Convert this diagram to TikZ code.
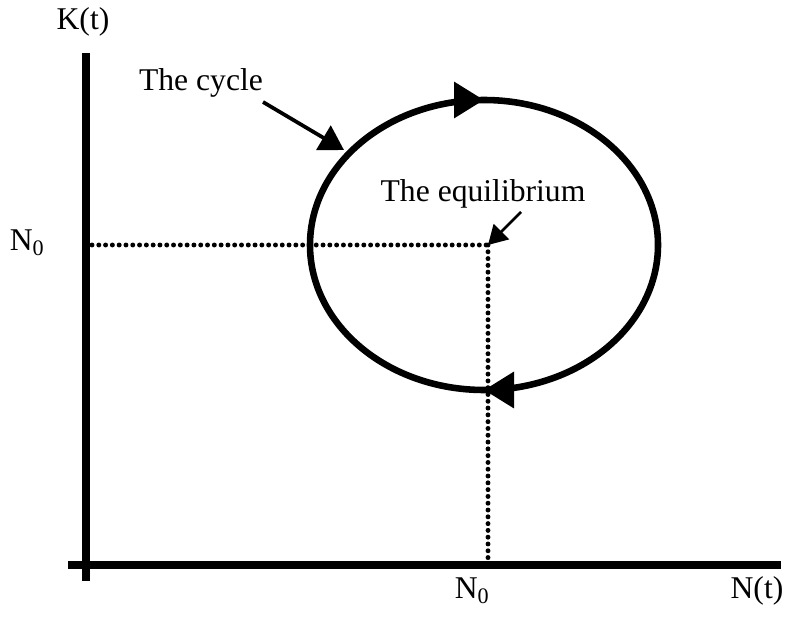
\documentclass[tikz,border=0pt]{standalone}
\usepackage{fontspec}
\setmainfont{Liberation Serif}
\usetikzlibrary{arrows.meta, positioning, decorations.markings}

\begin{document}
\begin{tikzpicture}[
        x=0.03cm,
        y=-0.03cm,
        axis/.style={
            line width=6.2pt
        },
        guide/.style={
            line width=4.2pt,
            line cap=round,
            dash pattern=on 0pt off 5.8pt
        },
        cycle/.style={
            line width=5.6pt,
            decoration={
                markings,
                mark=at position 0.25 with {\arrow{Triangle[length=0.9cm, width=1.05cm]}},
                mark=at position 0.75 with {\arrow{Triangle[length=0.9cm, width=1.05cm]}}
            },
            postaction={decorate}
        },
        label/.style={
            font=\fontsize{27}{31}\selectfont,
            inner sep=1pt
        },
        pointer/.style={
            -{Triangle[length=0.72cm, width=0.84cm]},
            line width=3.2pt
        },
        smallpointer/.style={
            -{Triangle[length=0.57cm, width=0.64cm]},
            line width=2.4pt
        }
    ]

        \useasboundingbox (0,0) rectangle (788,628);

        % ---------------------------------------------------------------------
        % Axes
        % ---------------------------------------------------------------------

        \coordinate (origin) at (86,565);
        \coordinate (equil) at (488,245);

        \draw[axis] (86,53) -- (86,581);
        \draw[axis] (68,565) -- (781,565);

        \node[label] (kaxis) at (83,22) {K(t)};
        \node[label] (naxis) at (757,591) {N(t)};

        % ---------------------------------------------------------------------
        % Equilibrium guides
        % ---------------------------------------------------------------------

        \draw[guide] (92,245) -- (equil);
        \draw[guide] (equil) -- (488,562);

        \node[label] (nzeroy) at (27,243) {N\textsubscript{0}};
        \node[label] (nzerox) at (472,591) {N\textsubscript{0}};

        % ---------------------------------------------------------------------
        % The cycle
        % ---------------------------------------------------------------------

        \draw[cycle] (484,245) ellipse [x radius=174, y radius=145];

        % ---------------------------------------------------------------------
        % Annotations
        % ---------------------------------------------------------------------

        \coordinate (cyclehit) at (344,150);

        \node[label] (cyclelabel) at (201,83) {The cycle};
        \node[label] (equillabel) at (483,194) {The equilibrium};

        \draw[pointer] (263,102) -- (cyclehit);
        \draw[smallpointer] (521,212) -- (equil);

    \end{tikzpicture}
\end{document}
